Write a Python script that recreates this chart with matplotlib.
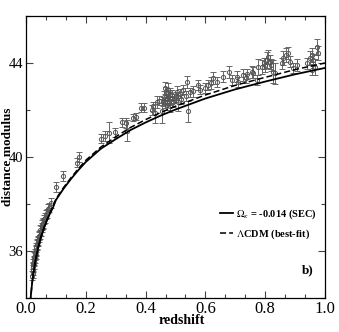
import numpy as np
import matplotlib
matplotlib.use('Agg')
import matplotlib.pyplot as plt

plt.rcParams['font.family'] = ['Liberation Serif', 'DejaVu Serif']
plt.rcParams['mathtext.fontset'] = 'stix'

# supernova data: redshift, distance modulus, error
z_low = [0.021, 0.022, 0.023, 0.024, 0.024, 0.025, 0.026, 0.026, 0.027, 0.028,
         0.029, 0.030, 0.031, 0.032, 0.033, 0.034, 0.035, 0.036, 0.038, 0.039,
         0.041, 0.042, 0.044, 0.046, 0.048, 0.050, 0.052, 0.054, 0.056, 0.058,
         0.060, 0.063, 0.066, 0.070, 0.074, 0.078, 0.084, 0.100, 0.123, 0.172,
         0.177]
mu_low = [34.95, 35.05, 35.30, 35.20, 35.45, 35.35, 35.60, 35.45, 35.55, 35.75,
          35.70, 35.80, 35.90, 35.85, 36.05, 36.00, 36.15, 36.25, 36.30, 36.45,
          36.40, 36.60, 36.65, 36.70, 36.90, 36.85, 37.00, 37.10, 37.20, 37.15,
          37.35, 37.40, 37.55, 37.60, 37.80, 37.85, 38.05, 38.72, 39.20, 39.76,
          40.00]
err_low = [0.20, 0.20, 0.20, 0.20, 0.20, 0.20, 0.20, 0.20, 0.20, 0.20,
           0.20, 0.20, 0.20, 0.20, 0.20, 0.20, 0.20, 0.20, 0.20, 0.20,
           0.20, 0.20, 0.20, 0.20, 0.20, 0.20, 0.20, 0.20, 0.20, 0.20,
           0.20, 0.20, 0.20, 0.20, 0.20, 0.20, 0.20, 0.20, 0.20, 0.20,
           0.20]

z_high = [0.250, 0.264, 0.279, 0.297, 0.322, 0.333, 0.337, 0.358, 0.368, 0.383,
          0.395, 0.420, 0.425, 0.430, 0.437, 0.445, 0.454, 0.458, 0.462, 0.465,
          0.468, 0.470, 0.472, 0.474, 0.476, 0.478, 0.480, 0.483, 0.487, 0.490,
          0.495, 0.504, 0.510, 0.515, 0.526, 0.535, 0.540, 0.542, 0.548, 0.560,
          0.575, 0.582, 0.600, 0.610, 0.620, 0.627, 0.640, 0.660, 0.680, 0.688,
          0.705, 0.710, 0.727, 0.736, 0.740, 0.755, 0.760, 0.772, 0.777, 0.788,
          0.796, 0.800, 0.805, 0.810, 0.816, 0.820, 0.826, 0.833, 0.855, 0.860,
          0.870, 0.877, 0.883, 0.894, 0.905, 0.940, 0.950, 0.955, 0.958, 0.960,
          0.967, 0.972, 0.978, 0.466, 0.473, 0.481, 0.500, 0.520]
mu_high = [40.78, 40.88, 41.03, 41.05, 41.47, 41.44, 41.12, 41.67, 41.72, 42.10,
           42.10, 42.00, 42.15, 41.88, 42.35, 42.40, 41.95, 42.36, 42.55, 42.30,
           42.75, 42.45, 42.20, 42.60, 42.85, 42.40, 42.15, 42.65, 42.64, 42.35,
           42.50, 42.78, 42.36, 42.70, 42.86, 42.60, 43.20, 41.95, 42.75, 42.79,
           43.07, 42.86, 42.93, 43.07, 43.14, 43.35, 43.20, 43.42, 43.63, 43.28,
           43.42, 43.20, 43.49, 43.35, 43.53, 43.63, 43.59, 43.28, 43.84, 43.84,
           43.98, 43.92, 44.13, 44.27, 44.06, 43.92, 43.63, 43.56, 43.98, 44.20,
           44.34, 44.41, 44.06, 43.78, 43.92, 43.98, 44.20, 43.72, 44.34, 44.13,
           43.84, 44.69, 44.41, 42.95, 42.50, 42.70, 42.55, 42.45]
err_high = [0.20, 0.22, 0.45, 0.20, 0.20, 0.22, 0.45, 0.15, 0.15, 0.18,
            0.18, 0.20, 0.20, 0.45, 0.25, 0.20, 0.50, 0.20, 0.25, 0.20,
            0.25, 0.20, 0.22, 0.20, 0.30, 0.20, 0.25, 0.20, 0.20, 0.22,
            0.20, 0.25, 0.40, 0.20, 0.20, 0.20, 0.25, 0.45, 0.20, 0.22,
            0.20, 0.20, 0.20, 0.20, 0.25, 0.25, 0.20, 0.22, 0.25, 0.20,
            0.22, 0.20, 0.25, 0.20, 0.20, 0.25, 0.22, 0.20, 0.35, 0.30,
            0.25, 0.30, 0.35, 0.30, 0.30, 0.25, 0.50, 0.45, 0.22, 0.30,
            0.30, 0.25, 0.25, 0.22, 0.25, 0.22, 0.30, 0.25, 0.30, 0.25,
            0.35, 0.35, 0.30, 0.25, 0.20, 0.22, 0.20, 0.20]

# model curves
z_curve = [0.014, 0.02, 0.025, 0.03, 0.035, 0.04, 0.045, 0.05, 0.06, 0.07,
           0.08, 0.09, 0.1, 0.125, 0.15, 0.175, 0.2, 0.25, 0.3, 0.35,
           0.4, 0.45, 0.5, 0.6, 0.7, 0.8, 0.9, 1.0]
mu_sec = [33.80, 34.59, 35.07, 35.47, 35.80, 36.10, 36.35, 36.59, 36.97, 37.30,
          37.59, 37.84, 38.17, 38.64, 39.06, 39.44, 39.79, 40.35, 40.76, 41.15,
          41.47, 41.76, 42.02, 42.49, 42.88, 43.21, 43.52, 43.79]
mu_lcdm = [33.80, 34.60, 35.08, 35.48, 35.81, 36.11, 36.36, 36.60, 36.99, 37.33,
           37.62, 37.88, 38.21, 38.69, 39.11, 39.50, 39.86, 40.42, 40.86, 41.26,
           41.59, 41.89, 42.16, 42.64, 43.05, 43.39, 43.72, 44.00]

fig = plt.figure(figsize=(3.39, 3.32), dpi=100)
ax = fig.add_axes([0.0767, 0.1024, 0.8820, 0.8494])

z_all = z_low + z_high
mu_all = mu_low + mu_high
err_all = err_low + err_high
ax.errorbar(z_all, mu_all, yerr=err_all, fmt='o', ms=3.0, mfc='none',
            mec='#555555', mew=0.7, ecolor='#666666', elinewidth=0.7,
            capsize=2.2, capthick=0.7, zorder=2)

ax.plot(z_curve, mu_sec, color='black', lw=1.3, ls='-',
        label=r'$\Omega_\kappa$ = -0.014 (SEC)', zorder=3)
ax.plot(z_curve, mu_lcdm, color='black', lw=1.1, ls=(0, (4, 2)),
        label=r'$\Lambda$CDM (best-fit)', zorder=3)

ax.set_xlim(0.0, 1.0)
ax.set_ylim(34, 46)
ax.set_xticks([0.0, 0.2, 0.4, 0.6, 0.8, 1.0])
ax.set_xticklabels(['0.0', '0.2', '0.4', '0.6', '0.8', '1.0'])
ax.set_xticks(np.arange(0, 1.0001, 0.2 / 3), minor=True)
ax.set_yticks([36, 40, 44])
ax.set_yticks([34, 38, 42, 46], minor=True)
ax.tick_params(which='both', direction='in', top=True, right=True,
               width=0.8, color='#444444', pad=2)
ax.tick_params(axis='x', labelsize=12)
ax.tick_params(axis='y', labelsize=10.5)
ax.tick_params(which='major', length=5)
ax.tick_params(which='minor', length=3)
for s in ax.spines.values():
    s.set_linewidth(0.9)

ax.set_xlabel('redshift', fontsize=10, fontweight='bold')
ax.xaxis.set_label_coords(0.52, -0.058)
ax.set_ylabel('distance modulus', fontsize=9.5, fontweight='bold')
ax.yaxis.set_label_coords(-0.039, 0.5)

leg = ax.legend(loc='center left', bbox_to_anchor=(0.618, 0.262), frameon=False,
                prop={'size': 7.5, 'weight': 'bold'}, handlelength=1.2,
                handletextpad=0.35, labelspacing=0.6)

ax.text(0.963, 0.10, 'b)', transform=ax.transAxes, ha='right', va='center',
        fontsize=9.5, fontweight='bold')

fig.savefig('out.png', dpi=100)
